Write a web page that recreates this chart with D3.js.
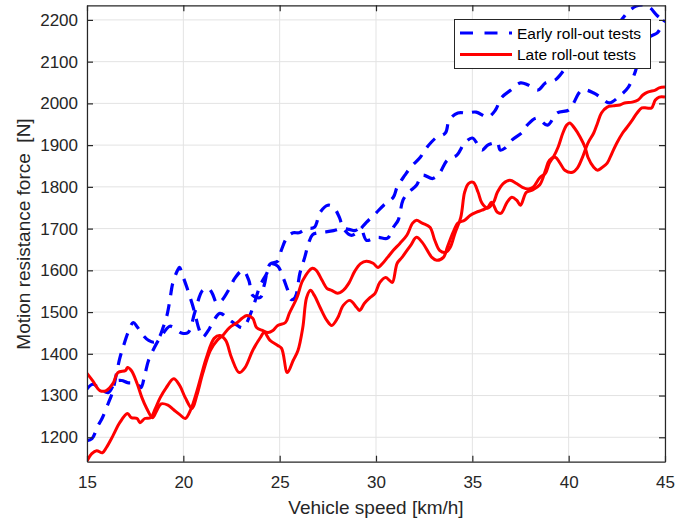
<!DOCTYPE html>
<html>
<head>
<meta charset="utf-8">
<script src="https://cdn.jsdelivr.net/npm/d3@7"></script>
<style>
  html, body { margin: 0; padding: 0; background: #ffffff; }
  svg { display: block; font-family: "Liberation Sans", Arial, Helvetica, sans-serif; }
</style>
</head>
<body>
<svg id="chart" width="676" height="522"></svg>
<script>
// Coast-down (roll-out) measurements: motion resistance vs. vehicle speed

// Early roll-out test, run 1
const early1Speed = [15.0, 15.3, 15.6, 16.1, 16.5, 16.8, 17.1, 17.6, 17.8, 18.0, 18.2, 18.5, 18.7, 19.0, 19.3, 19.6, 19.9, 20.25,
  20.6, 21.0, 21.3, 21.5, 21.75, 22.0, 22.4, 22.7, 23.1, 23.4, 23.6, 24.0, 24.2, 24.5, 24.9, 25.1, 25.4, 25.7, 26.0, 26.4,
  26.8, 27.1, 27.5, 27.8, 28.1, 28.3, 28.7, 29.0, 29.5, 29.95, 30.4, 30.9, 31.1, 31.5, 31.8, 32.3, 32.6, 33.1, 33.6, 33.8,
  34.25, 34.7, 35.2, 35.8, 36.2, 36.5, 37.0, 37.5, 37.9, 38.4, 38.8, 39.3, 39.9, 40.5, 41.0, 41.5, 42.0, 42.7, 43.1, 43.5,
  43.9, 44.2, 44.6, 45.0];
const early1Force = [1316, 1327, 1319, 1307, 1334, 1336, 1331, 1329, 1319, 1350, 1385, 1415, 1432, 1452, 1466, 1460, 1450, 1451,
  1500, 1552, 1557, 1545, 1521, 1528, 1557, 1583, 1600, 1576, 1540, 1535, 1565, 1615, 1622, 1650, 1680, 1690, 1690, 1700,
  1703, 1739, 1756, 1751, 1727, 1701, 1684, 1690, 1715, 1735, 1756, 1775, 1800, 1828, 1847, 1871, 1892, 1917, 1929, 1960,
  1977, 1977, 1979, 1967, 1984, 2013, 2032, 2049, 2044, 2032, 2049, 2056, 2087, 2108, 2125, 2145, 2165, 2198, 2220, 2233,
  2236, 2230, 2210, 2195];

// Early roll-out test, run 2
const early2Speed = [15.0, 15.26, 15.57, 15.78, 16.1, 16.3, 16.7, 16.87, 17.13, 17.4, 17.6, 17.9, 18.2, 18.5, 18.75, 18.95, 19.15,
  19.3, 19.45, 19.7, 19.8, 20.0, 20.2, 20.45, 20.6, 20.8, 21.0, 21.3, 21.5, 21.9, 22.3, 22.8, 23.1, 23.6, 23.7, 24.0, 24.3,
  24.6, 24.9, 25.2, 25.4, 25.6, 25.8, 26.05, 26.3, 26.5, 26.7, 27.0, 27.4, 27.8, 28.2, 28.6, 28.9, 29.2, 29.5, 29.8, 30.1,
  30.6, 30.9, 31.15, 31.4, 31.66, 32.1, 32.4, 32.95, 33.3, 33.7, 34.2, 34.6, 35.0, 35.3, 35.5, 35.8, 36.1, 36.3, 36.45, 36.7,
  37.05, 37.6, 37.85, 38.35, 38.9, 39.4, 40.0, 40.2, 40.7, 41.3, 41.7, 42.1, 42.7, 43.1, 43.45, 43.6, 43.96, 44.2, 44.6,
  44.8, 45.0];
const early2Force = [1192, 1197, 1228, 1245, 1281, 1305, 1389, 1415, 1451, 1475, 1465, 1445, 1432, 1428, 1440, 1463, 1492,
  1528, 1569, 1600, 1607, 1583, 1557, 1521, 1497, 1461, 1440, 1456, 1473, 1497, 1485, 1468, 1463, 1509, 1523, 1565, 1590,
  1615, 1610, 1580, 1555, 1530, 1535, 1593, 1631, 1665, 1685, 1690, 1692, 1695, 1700, 1698, 1695, 1701, 1672, 1675, 1679,
  1677, 1703, 1720, 1768, 1785, 1804, 1828, 1820, 1833, 1864, 1876, 1905, 1917, 1900, 1888, 1900, 1905, 1907, 1888, 1893,
  1912, 1931, 1948, 1965, 1948, 1977, 1984, 1996, 2032, 2025, 2013, 2001, 2020, 2039, 2075, 2099, 2135, 2159, 2169,
  2183, 2200];

// Late roll-out test, run 1
const late1Speed = [15.0, 15.3, 15.67, 16.0, 16.35, 16.6, 17.0, 17.1, 17.3, 17.6, 17.85, 18.1, 18.4, 18.6, 18.85, 19.2, 19.5,
  19.8, 20.1, 20.4, 20.7, 20.9, 21.2, 21.6, 21.9, 22.2, 22.5, 22.9, 23.2, 23.6, 24.0, 24.2, 24.5, 24.9, 25.1, 25.4, 25.7,
  25.95, 26.2, 26.4, 26.6, 26.8, 27.1, 27.45, 27.7, 28.0, 28.3, 28.65, 29.0, 29.15, 29.4, 29.7, 29.95, 30.2, 30.5, 30.7,
  30.85, 31.1, 31.35, 31.8, 32.1, 32.4, 32.9, 33.15, 33.5, 33.7, 34.0, 34.25, 34.6, 34.9, 35.2, 35.5, 35.8, 36.0, 36.3,
  36.5, 36.8, 37.05, 37.3, 37.5, 37.8, 38.1, 38.5, 38.8, 39.0, 39.3, 39.55, 39.8, 40.2, 40.45, 40.7, 41.0, 41.3, 41.5,
  41.7, 42.0, 42.3, 42.65, 42.9, 43.3, 43.6, 43.85, 44.1, 44.5, 44.7, 45.0];
const late1Force = [1353, 1335, 1312, 1312, 1329, 1355, 1360, 1367, 1360, 1329, 1295, 1269, 1247, 1262, 1280, 1277, 1266,
  1255, 1245, 1268, 1310, 1343, 1391, 1437, 1444, 1432, 1391, 1355, 1367, 1408, 1439, 1451, 1432, 1420, 1413, 1355, 1384,
  1408, 1463, 1535, 1552, 1540, 1511, 1480, 1468, 1485, 1516, 1528, 1511, 1504, 1521, 1535, 1545, 1571, 1583, 1576,
  1571, 1617, 1631, 1660, 1679, 1667, 1631, 1624, 1631, 1655, 1691, 1713, 1720, 1732, 1739, 1744, 1751, 1763, 1739,
  1737, 1763, 1775, 1768, 1756, 1787, 1792, 1805, 1840, 1864, 1871, 1857, 1840, 1835, 1845, 1869, 1905, 1929, 1953,
  1977, 1991, 1994, 1996, 2001, 2003, 2008, 2020, 2027, 2032, 2037, 2039];

// Late roll-out test, run 2
const late2Speed = [15.0, 15.25, 15.5, 15.8, 16.0, 16.35, 16.7, 17.1, 17.3, 17.6, 17.75, 18.0, 18.3, 18.55, 18.8, 19.1, 19.5,
  19.8, 20.1, 20.45, 20.7, 21.0, 21.4, 21.75, 22.05, 22.4, 22.8, 23.05, 23.3, 23.6, 23.8, 24.1, 24.4, 24.65, 24.9, 25.3,
  25.5, 25.9, 26.2, 26.7, 26.9, 27.2, 27.45, 27.7, 28.0, 28.3, 28.6, 28.9, 29.2, 29.5, 29.85, 30.1, 30.35, 30.6, 30.9,
  31.25, 31.6, 31.9, 32.1, 32.4, 32.8, 33.05, 33.3, 33.6, 33.85, 34.1, 34.4, 34.6, 34.8, 35.05, 35.3, 35.5, 35.8, 36.1,
  36.3, 36.6, 36.95, 37.3, 37.6, 37.9, 38.15, 38.5, 38.8, 39.0, 39.2, 39.45, 39.7, 39.9, 40.05, 40.3, 40.6, 40.85, 41.0,
  41.3, 41.5, 41.7, 42.0, 42.25, 42.5, 42.8, 43.0, 43.3, 43.55, 43.8, 44.05, 44.3, 44.5, 44.7, 45.0];
const late2Force = [1143, 1161, 1168, 1163, 1175, 1204, 1235, 1257, 1247, 1245, 1235, 1245, 1247, 1269, 1295, 1318, 1340,
  1325, 1295, 1269, 1300, 1352, 1408, 1432, 1444, 1463, 1475, 1485, 1492, 1485, 1463, 1456, 1451, 1456, 1468, 1475,
  1497, 1535, 1576, 1605, 1600, 1576, 1557, 1552, 1545, 1552, 1570, 1598, 1616, 1622, 1617, 1607, 1617, 1631, 1648,
  1665, 1684, 1713, 1720, 1713, 1703, 1672, 1648, 1643, 1655, 1689, 1727, 1787, 1808, 1811, 1787, 1761, 1749, 1763,
  1787, 1808, 1816, 1808, 1799, 1795, 1799, 1822, 1833, 1857, 1871, 1895, 1929, 1948, 1953, 1941, 1919, 1895, 1871,
  1847, 1840, 1845, 1857, 1881, 1905, 1929, 1941, 1960, 1977, 1989, 1989, 1989, 2008, 2015, 2015];

// Axis ticks and labels
const xTicks = [15, 20, 25, 30, 35, 40, 45];
const yTicks = [1200, 1300, 1400, 1500, 1600, 1700, 1800, 1900, 2000, 2100, 2200];
const xDomain = [15, 45];
const yDomain = [1141.5, 2235];
const xTitle = "Vehicle speed [km/h]";
const yTitle = "Motion resistance force  [N]";
const legendLabels = ["Early roll-out tests", "Late roll-out tests"];

const axisColor = "#262626";
const gridColor = "#e3e3e3";
const blue = "#0000ff";
const red = "#ff0000";

const svg = d3.select("#chart");
const margin = { left: 87, right: 11, top: 5.3, bottom: 60.3 };
const W = 676, H = 522;
const iw = W - margin.left - margin.right;
const ih = H - margin.top - margin.bottom;

const x = d3.scaleLinear().domain(xDomain).range([0, iw]);
const y = d3.scaleLinear().domain(yDomain).range([ih, 0]);

const g = svg.append("g").attr("transform", `translate(${margin.left},${margin.top})`);

g.append("defs").append("clipPath").attr("id", "plotClip")
  .append("rect").attr("x", 0).attr("y", 0).attr("width", iw).attr("height", ih);

// grid
g.append("g").selectAll("line").data(xTicks).join("line")
  .attr("x1", d => x(d)).attr("x2", d => x(d)).attr("y1", 0).attr("y2", ih)
  .attr("stroke", gridColor).attr("stroke-width", 1);
g.append("g").selectAll("line").data(yTicks).join("line")
  .attr("x1", 0).attr("x2", iw).attr("y1", d => y(d)).attr("y2", d => y(d))
  .attr("stroke", gridColor).attr("stroke-width", 1);

// series
const series = [
  { sx: early1Speed, sy: early1Force, color: blue, dash: "12,9", width: 3.2 },
  { sx: early2Speed, sy: early2Force, color: blue, dash: "12,9", width: 3.2 },
  { sx: late1Speed, sy: late1Force, color: red, dash: null, width: 3 },
  { sx: late2Speed, sy: late2Force, color: red, dash: null, width: 3 }
];

const line = d3.line()
  .x(d => x(d[0]))
  .y(d => y(d[1]))
  .curve(d3.curveCatmullRom.alpha(0.5));

const plot = g.append("g").attr("clip-path", "url(#plotClip)");
series.forEach(s => {
  const pts = s.sx.map((v, i) => [v, s.sy[i]]);
  plot.append("path")
    .datum(pts)
    .attr("d", line)
    .attr("fill", "none")
    .attr("stroke", s.color)
    .attr("stroke-width", s.width)
    .attr("stroke-linejoin", "round")
    .attr("stroke-dasharray", s.dash);
});

// axes (ticks inside on all four sides, closed box)
const tickLen = 6;
const fontTick = 17;
const fmt = d3.format("d");

const axB = g.append("g").attr("transform", `translate(0,${ih})`)
  .call(d3.axisBottom(x).tickValues(xTicks).tickFormat(fmt).tickSizeInner(-tickLen).tickSizeOuter(0).tickPadding(14));
const axT = g.append("g")
  .call(d3.axisTop(x).tickValues(xTicks).tickSizeInner(-tickLen).tickSizeOuter(0).tickFormat(""));
const axL = g.append("g")
  .call(d3.axisLeft(y).tickValues(yTicks).tickFormat(fmt).tickSizeInner(-tickLen).tickSizeOuter(0).tickPadding(9));
const axR = g.append("g").attr("transform", `translate(${iw},0)`)
  .call(d3.axisRight(y).tickValues(yTicks).tickSizeInner(-tickLen).tickSizeOuter(0).tickFormat(""));

[axB, axT, axL, axR].forEach(a => {
  a.select(".domain").attr("stroke", axisColor).attr("stroke-width", 1.2);
  a.selectAll(".tick line").attr("stroke", axisColor).attr("stroke-width", 1.2);
  a.selectAll(".tick text")
    .attr("fill", axisColor)
    .style("font-family", "'Liberation Sans', Arial, sans-serif")
    .style("font-size", fontTick + "px");
});

// axis titles
svg.append("text")
  .attr("x", margin.left + iw / 2)
  .attr("y", 514)
  .attr("text-anchor", "middle")
  .attr("fill", axisColor)
  .style("font-size", "19px")
  .text(xTitle);

svg.append("text")
  .attr("transform", "translate(30,234) rotate(-90)")
  .attr("text-anchor", "middle")
  .attr("fill", axisColor)
  .style("font-size", "19px")
  .style("white-space", "pre")
  .text(yTitle);

// legend
const lg = svg.append("g");
lg.append("rect")
  .attr("x", 454.5).attr("y", 19.5).attr("width", 196).attr("height", 49)
  .attr("fill", "#ffffff").attr("stroke", axisColor).attr("stroke-width", 1);
const legendItems = [
  { label: legendLabels[0], color: blue, dash: "13,11.5", width: 3.2, yy: 33 },
  { label: legendLabels[1], color: red, dash: null, width: 3, yy: 54.5 }
];
legendItems.forEach(it => {
  lg.append("line")
    .attr("x1", 460).attr("x2", 512).attr("y1", it.yy).attr("y2", it.yy)
    .attr("stroke", it.color).attr("stroke-width", it.width)
    .attr("stroke-dasharray", it.dash);
  lg.append("text")
    .attr("x", 517).attr("y", it.yy + 5.5)
    .attr("fill", "#000000")
    .style("font-size", "15.5px")
    .text(it.label);
});
</script>
</body>
</html>
